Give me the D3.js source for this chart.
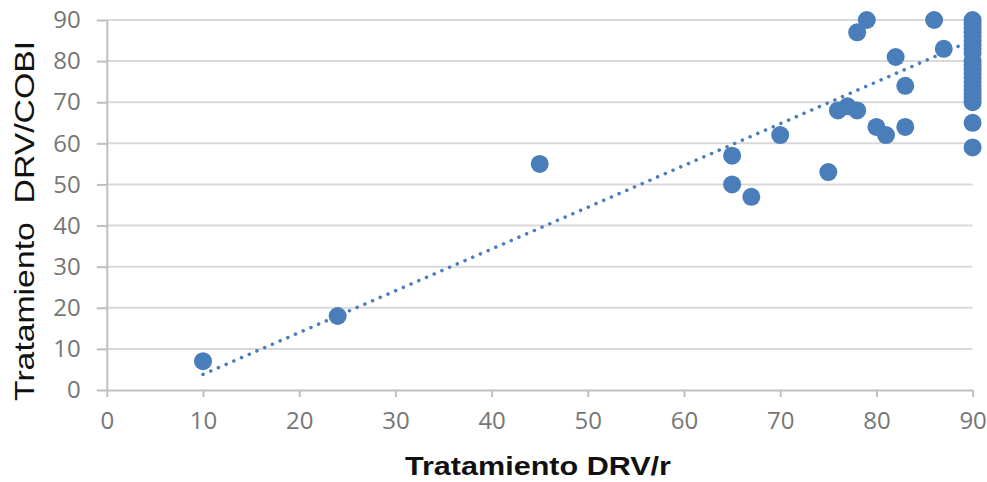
<!DOCTYPE html>
<html>
<head>
<meta charset="utf-8">
<script src="https://cdn.jsdelivr.net/npm/d3@7"></script>
<style>
  body { margin: 0; background: #fff; }
  svg { display: block; font-family: "Open Sans", sans-serif; }
</style>
</head>
<body>
<svg id="chart"></svg>
<script>
// values
const xValues = [10, 24, 45, 65, 65, 67, 70, 75, 76, 77, 78, 78, 79, 80, 81, 82, 83, 83, 86, 87,
  90, 90, 90, 90, 90, 90, 90, 90, 90, 90, 90, 90, 90, 90, 90, 90, 90, 90, 90, 90, 90, 90];
const yValues = [7, 18, 55, 57, 50, 47, 62, 53, 68, 69, 68, 87, 90, 64, 62, 81, 74, 64, 90, 83,
  90, 89, 88, 87, 86, 85, 84, 83, 82, 80, 79, 78, 77, 76, 75, 74, 73, 72, 71, 70, 65, 59];
const xTicks = [0, 10, 20, 30, 40, 50, 60, 70, 80, 90];
const yTicks = [0, 10, 20, 30, 40, 50, 60, 70, 80, 90];
// dotted trend line ends
const trendX = [10, 90];
const trendY = [3.8, 85.1];

const width = 987, height = 482;
const margin = { top: 20, right: 14.4, bottom: 92, left: 106.8 };
const color = "#4a7ebb";

const svg = d3.select("#chart")
    .attr("width", width)
    .attr("height", height);

const x = d3.scaleLinear()
    .domain([0, 90])
    .range([margin.left, width - margin.right]);

const y = d3.scaleLinear()
    .domain([0, 90])
    .range([height - margin.bottom, margin.top]);

// horizontal grid
svg.append("g")
    .selectAll("line")
    .data(yTicks.filter(d => d > 0))
    .join("line")
    .attr("x1", x(0))
    .attr("x2", x(90))
    .attr("y1", d => y(d))
    .attr("y2", d => y(d))
    .attr("stroke", "#d9d9d9")
    .attr("stroke-width", 2);

const xAxis = svg.append("g")
    .attr("transform", `translate(0,${y(0)})`)
    .call(d3.axisBottom(x).tickValues(xTicks).tickSize(7).tickPadding(15).tickSizeOuter(0));

const yAxis = svg.append("g")
    .attr("transform", `translate(${x(0)},0)`)
    .call(d3.axisLeft(y).tickValues(yTicks).tickSize(10).tickPadding(16).tickSizeOuter(0));

[xAxis, yAxis].forEach(g => {
  g.select(".domain").attr("stroke", "#bfbfbf").attr("stroke-width", 2);
  g.selectAll(".tick line").attr("stroke", "#bfbfbf").attr("stroke-width", 2);
  g.selectAll(".tick text")
      .attr("fill", "#767676")
      .style("font-family", "'Open Sans', sans-serif")
      .style("font-size", "24px");
});

// trend line
svg.append("line")
    .attr("x1", x(trendX[0]))
    .attr("y1", y(trendY[0]))
    .attr("x2", x(trendX[1]))
    .attr("y2", y(trendY[1]))
    .attr("stroke", color)
    .attr("stroke-width", 3.5)
    .attr("stroke-linecap", "round")
    .attr("stroke-dasharray", "0.1 8.3");

// points
svg.append("g")
    .selectAll("circle")
    .data(xValues.map((d, i) => [d, yValues[i]]))
    .join("circle")
    .attr("cx", d => x(d[0]))
    .attr("cy", d => y(d[1]))
    .attr("r", 9)
    .attr("fill", color);

// axis titles
svg.append("text")
    .attr("x", 538)
    .attr("y", 475)
    .attr("text-anchor", "middle")
    .style("font-family", "'Liberation Sans', Arial, sans-serif")
    .style("font-size", "26px")
    .style("font-weight", "bold")
    .attr("fill", "#111")
    .attr("textLength", 266)
    .attr("lengthAdjust", "spacingAndGlyphs")
    .text("Tratamiento DRV/r");

svg.append("text")
    .attr("transform", "translate(34,221) rotate(-90)")
    .attr("text-anchor", "middle")
    .style("font-family", "'Liberation Sans', Arial, sans-serif")
    .style("font-size", "28px")
    .attr("fill", "#111")
    .attr("xml:space", "preserve")
    .attr("textLength", 360)
    .attr("lengthAdjust", "spacingAndGlyphs")
    .text("Tratamiento  DRV/COBI");
</script>
</body>
</html>
